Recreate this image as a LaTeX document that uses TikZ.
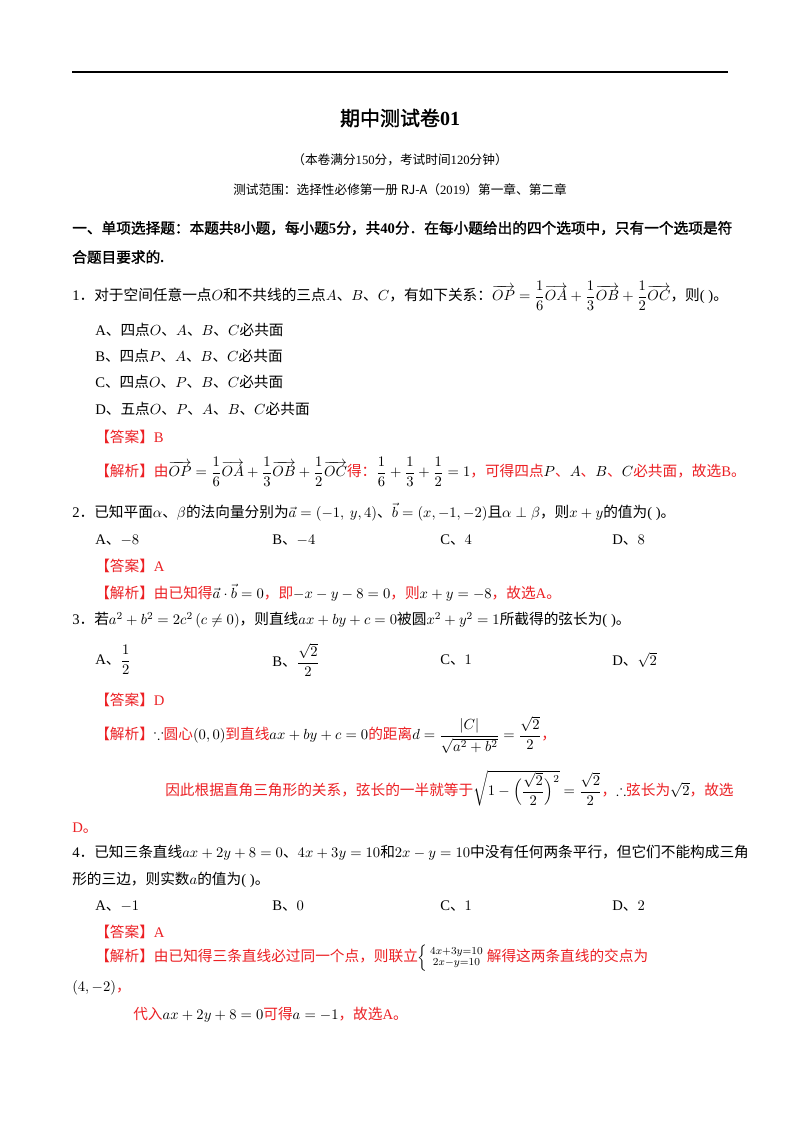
\documentclass[tikz,border=0pt]{standalone}
\usepackage{amsmath,amssymb}
\usepackage{fontspec}
\setmainfont{Liberation Serif}
\newfontfamily\cjkrm{Noto Sans CJK SC}
\newfontfamily\cjkbf{Noto Sans CJK SC}[FakeBold=1.5]
\newfontfamily\latinrm{Liberation Serif}
\newfontfamily\latinbf{Liberation Serif Bold}
\def\zhfont{\cjkrm}\def\enfont{\latinrm}
\newXeTeXintercharclass\zhclass
\makeatletter
\count@="3000
\loop\ifnum\count@<"A000 \XeTeXcharclass\count@=\zhclass \advance\count@ by 1 \repeat
\count@="FF00
\loop\ifnum\count@<"FFF0 \XeTeXcharclass\count@=\zhclass \advance\count@ by 1 \repeat
\makeatother
\XeTeXinterchartoks 0 \zhclass = {\zhfont}
\XeTeXinterchartoks 4095 \zhclass = {\zhfont}
\XeTeXinterchartoks \zhclass 0 = {\enfont}
\XeTeXinterchartokenstate=1
\definecolor{ans}{RGB}{236,32,36}
\newcommand\mk[1]{\textcolor{black}{$#1$}}
\newcommand\ov[1]{\overrightarrow{#1}}
\tikzset{t/.style={anchor=west,inner sep=0pt,font=\fontsize{11}{13}\selectfont},
 r/.style={t,text=ans},
 bt/.style={t,font=\def\zhfont{\cjkbf}\def\enfont{\latinbf}\fontsize{11}{13}\selectfont}}
\begin{document}
\begin{tikzpicture}[x=0.75pt,y=-0.75pt]
\useasboundingbox[fill=white] (0,0) rectangle (800,1132);
\draw[line width=1.1pt] (72,72) -- (728,72);
\node[inner sep=0pt,font=\def\zhfont{\cjkbf}\def\enfont{\latinbf}\fontsize{15}{17}\selectfont] (title) at (400,118) {期中测试卷01};
\node[inner sep=0pt,font=\fontsize{9.5}{11}\selectfont] (sub1) at (400,160) {（本卷满分150分，考试时间120分钟）};
\node[inner sep=0pt,font=\fontsize{9.5}{11}\selectfont] (sub2) at (400,190) {测试范围：选择性必修第一册 RJ-A（2019）第一章、第二章};
\node[bt] (h1) at (72,228) {一、单项选择题：本题共8小题，每小题5分，共40分．在每小题给出的四个选项中，只有一个选项是符};
\node[bt] (h2) at (72,257) {合题目要求的.};
% Q1
\node[t] (q1) at (72,296) {1．对于空间任意一点$O$和不共线的三点$A$、$B$、$C$，有如下关系：$\ov{OP}=\dfrac{1}{6}\ov{OA}+\dfrac{1}{3}\ov{OB}+\dfrac{1}{2}\ov{OC}$，则( )。};
\node[t] (q1a) at (95,330) {A、四点$O$、$A$、$B$、$C$必共面};
\node[t] (q1b) at (95,356) {B、四点$P$、$A$、$B$、$C$必共面};
\node[t] (q1c) at (95,382) {C、四点$O$、$P$、$B$、$C$必共面};
\node[t] (q1d) at (95,409) {D、五点$O$、$P$、$A$、$B$、$C$必共面};
\node[r] (a1) at (95,437) {【答案】B};
\node[r] (s1) at (95,472) {【解析】由\mk{\ov{OP}=\dfrac{1}{6}\ov{OA}+\dfrac{1}{3}\ov{OB}+\dfrac{1}{2}\ov{OC}}得：\mk{\dfrac{1}{6}+\dfrac{1}{3}+\dfrac{1}{2}=1}，可得四点\mk{P}、\mk{A}、\mk{B}、\mk{C}必共面，故选B。};
% Q2
\node[t] (q2) at (72,512) {2．已知平面$\alpha$、$\beta$的法向量分别为$\vec{a}=(-1,\ y,4)$、$\vec{b}=(x,-1,-2)$且$\alpha\perp\beta$，则$x+y$的值为( )。};
\node[t] (q2a) at (95,540) {A、$-8$};
\node[t] (q2b) at (272,540) {B、$-4$};
\node[t] (q2c) at (440,540) {C、$4$};
\node[t] (q2d) at (612,540) {D、$8$};
\node[r] (a2) at (95,566) {【答案】A};
\node[r] (s2) at (95,593) {【解析】由已知得\mk{\vec{a}\cdot\vec{b}=0}，即\mk{-x-y-8=0}，则\mk{x+y=-8}，故选A。};
% Q3
\node[t] (q3) at (72,620) {3．若$a^2+b^2=2c^2\,(c\neq0)$，则直线$ax+by+c=0$被圆$x^2+y^2=1$所截得的弦长为( )。};
\node[t] (q3a) at (95,660) {A、$\dfrac{1}{2}$};
\node[t] (q3b) at (272,660) {B、$\dfrac{\sqrt{2}}{2}$};
\node[t] (q3c) at (440,660) {C、$1$};
\node[t] (q3d) at (612,660) {D、$\sqrt{2}$};
\node[r] (a3) at (95,700) {【答案】D};
\node[r] (s3) at (95,735) {【解析】\mk{\because}圆心\mk{(0,0)}到直线\mk{ax+by+c=0}的距离\mk{d=\dfrac{|C|}{\sqrt{a^2+b^2}}=\dfrac{\sqrt{2}}{2}}，};
\node[r] (s3b) at (165,788) {因此根据直角三角形的关系，弦长的一半就等于\mk{\sqrt{1-\Big(\dfrac{\sqrt{2}}{2}\Big)^2}=\dfrac{\sqrt{2}}{2}}，\mk{\therefore}弦长为\mk{\sqrt{2}}，故选};
\node[r] (s3c) at (72,828) {D。};
% Q4
\node[t] (q4) at (72,853) {4．已知三条直线$ax+2y+8=0$、$4x+3y=10$和$2x-y=10$中没有任何两条平行，但它们不能构成三角};
\node[t] (q4b) at (72,880) {形的三边，则实数$a$的值为( )。};
\node[t] (q4a1) at (95,906) {A、$-1$};
\node[t] (q4a2) at (272,906) {B、$0$};
\node[t] (q4a3) at (440,906) {C、$1$};
\node[t] (q4a4) at (612,906) {D、$2$};
\node[r] (a4) at (95,932) {【答案】A};
\node[r] (s4) at (95,958) {【解析】由已知得三条直线必过同一个点，则联立\mk{\left\{\begin{smallmatrix}4x+3y=10\\2x-y=10\end{smallmatrix}\right.}解得这两条直线的交点为};
\node[r] (s4b) at (72,988) {\mk{(4,-2)}，};
\node[r] (s4c) at (133,1015) {代入\mk{ax+2y+8=0}可得\mk{a=-1}，故选A。};
\end{tikzpicture}
\end{document}
